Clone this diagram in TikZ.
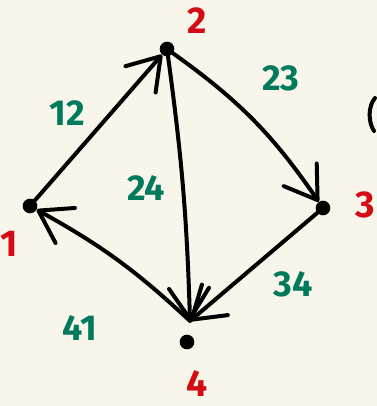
\documentclass[tikz,border=0pt]{standalone}
\usepackage{fontspec}
\setmainfont{Fira Sans}
\usetikzlibrary{arrows.meta}
\definecolor{bg}{HTML}{F8F6EA}
\definecolor{nred}{HTML}{D40A14}
\definecolor{egreen}{HTML}{007A5C}
\tikzset{
  dot/.style={circle,fill=black,inner sep=0pt,minimum size=11pt},
  edge/.style={draw=black,line width=3pt,line cap=round,line join=round,
    -{Straight Barb[length=23pt,width=30pt,line width=3pt,round]}},
  nlabel/.style={text=nred,inner sep=0pt,font=\fontsize{28}{28}\selectfont\bfseries},
  elabel/.style={text=egreen,inner sep=0pt,font=\fontsize{27}{27}\selectfont\bfseries},
}
\begin{document}
\begin{tikzpicture}[x=0.75pt,y=-0.75pt]
\fill[bg] (0,0) rectangle (377,406);
\useasboundingbox (0,0) rectangle (377,406);
% nodes
\node[dot] (n1) at (30,206) {};
\node[dot] (n2) at (167,49) {};
\node[dot] (n3) at (323,208) {};
\node[dot] (n4) at (187,342) {};
\coordinate (p4) at (190,321);
% edges
\draw[edge] (n1) to (n2);
\draw[edge] (n2) to[bend left=10] (n3);
\draw[edge] (n3) to (p4);
\draw[edge] (p4) to[bend right=7] (n1);
\draw[edge] (n2) to[bend left=3] (p4);
% node labels
\node[nlabel] (l1) at (9,244) {1};
\node[nlabel] (l2) at (197,21) {2};
\node[nlabel] (l3) at (365,205) {3};
\node[nlabel] (l4) at (197,384) {4};
% edge labels
\node[elabel] (e12) at (67,113) {12};
\node[elabel] (e23) at (281,78) {23};
\node[elabel] (e24) at (146,188) {24};
\node[elabel] (e34) at (293,284) {34};
\node[elabel] (e41) at (80,328) {41};
% partial bracket at right edge
\draw[line width=3pt,line cap=round] (375,98) .. controls (368,106) and (368,122) .. (374,131);
\end{tikzpicture}
\end{document}
